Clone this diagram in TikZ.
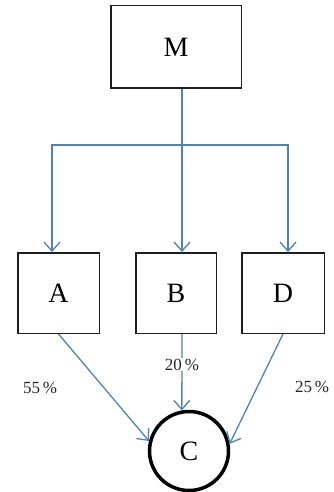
\documentclass[tikz,border=0pt]{standalone}
\usepackage{fontspec}
\setmainfont{Liberation Serif}
\usetikzlibrary{arrows.meta}
\definecolor{linkblue}{RGB}{79,129,189}
\definecolor{boxline}{RGB}{30,30,30}
\begin{document}
\begin{tikzpicture}[x=1pt,y=1pt,
  box/.style={draw=boxline,line width=1.5pt,inner sep=0pt,font=\fontsize{28}{30}\selectfont},
  hub/.style={circle,draw=black,line width=3.5pt,inner sep=0pt,minimum size=79pt,font=\fontsize{28}{30}\selectfont},
  arr/.style={draw=linkblue,line width=1.3pt,-{Straight Barb[length=9pt,width=16pt,line width=1.3pt]}},
  link/.style={draw=linkblue,line width=1.3pt},
  pct/.style={font=\fontsize{17}{19}\selectfont,text=black!85,inner sep=1pt}]
\useasboundingbox (0,0) rectangle (334,-492);
\node[box,minimum width=130.5pt,minimum height=82.5pt] (M) at (176,-47) {M};
\node[box,minimum width=81.5pt,minimum height=80.5pt] (A) at (58.5,-293) {A};
\node[box,minimum width=80.5pt,minimum height=80.5pt] (B) at (176,-293) {B};
\node[box,minimum width=82.5pt,minimum height=80.5pt] (D) at (283,-293) {D};
\node[hub] (C) at (189,-451) {C};
\coordinate (J) at (182,-145);
\draw[link] ([xshift=6pt]M.south) -- (J);
\draw[arr] (J) -- ([xshift=6pt]B.north);
\draw[arr] (J) -| ([xshift=-6.5pt]A.north);
\draw[arr] (J) -| ([xshift=5pt]D.north);
\draw[arr] (A.south) -- (C.166);
\draw[arr] ([xshift=6pt]B.south) -- node[pct,fill=white,pos=0.4] (p20) {20\,\%} (C.100);
\draw[arr] (D.south) -- (C.10);
\node[pct] (p55) at (40,-388) {55\,\%};
\node[pct] (p25) at (312,-387) {25\,\%};
\end{tikzpicture}
\end{document}
